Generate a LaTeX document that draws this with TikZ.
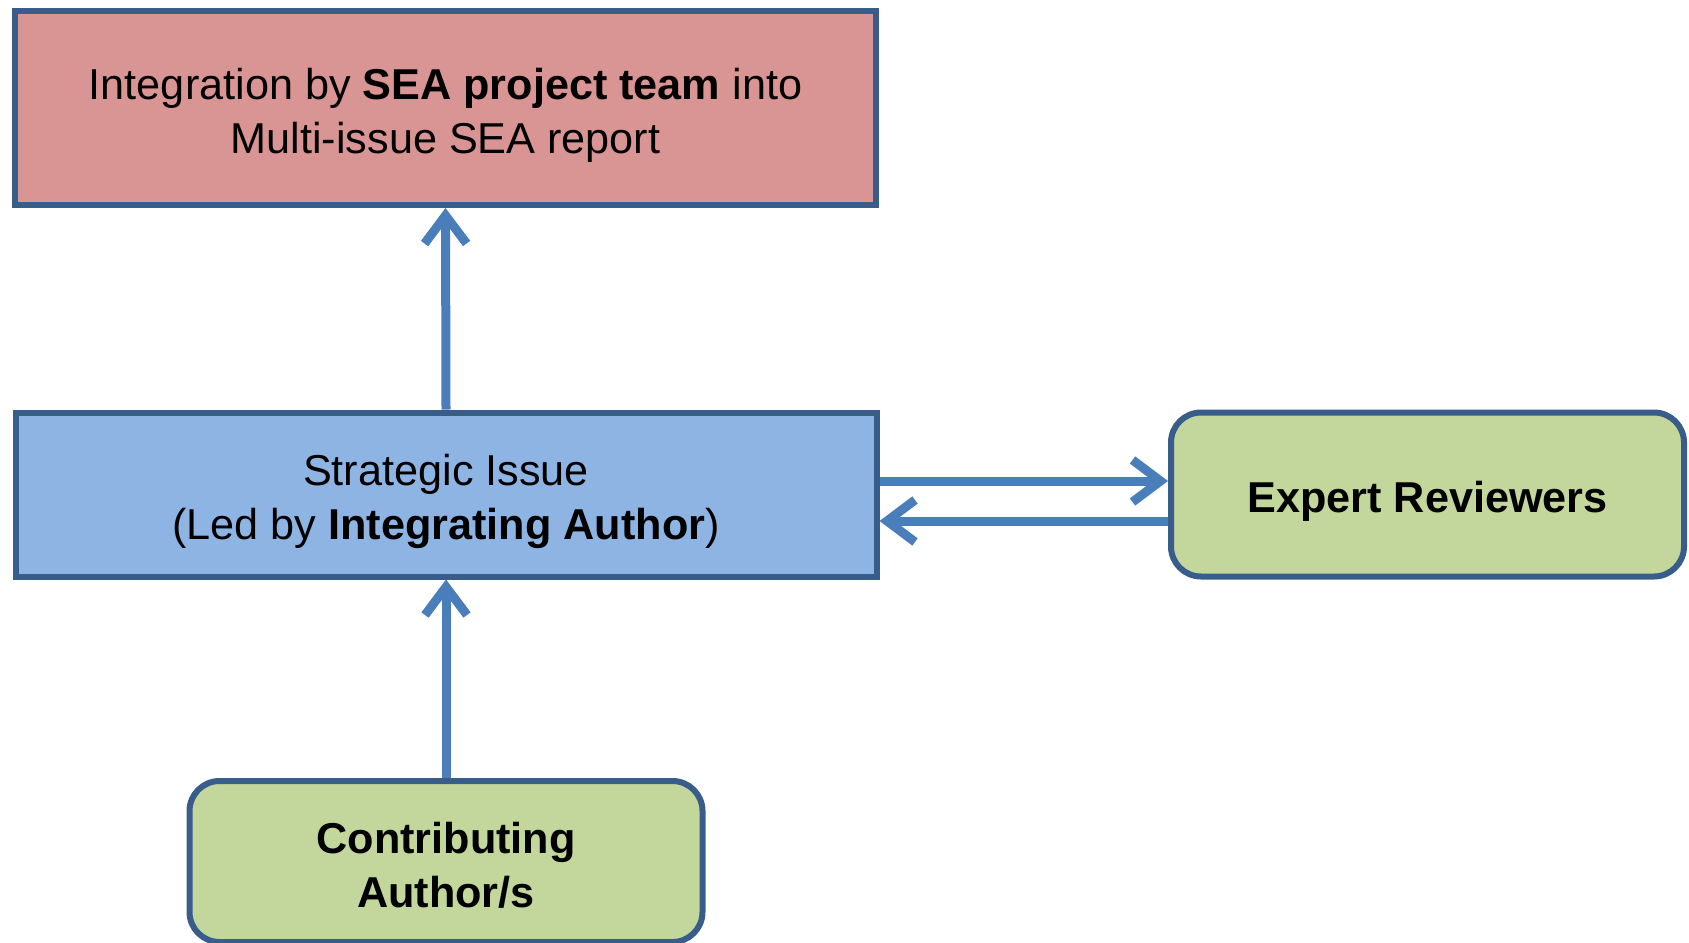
\documentclass[tikz,border=0pt]{standalone}
\usepackage{fontspec}
\setmainfont{Liberation Sans}
\usetikzlibrary{arrows.meta,positioning}

\definecolor{edgeblue}{HTML}{385D8A}
\definecolor{flowblue}{HTML}{4A7EBB}
\definecolor{teamred}{HTML}{D99594}
\definecolor{issueblue}{HTML}{8EB4E3}
\definecolor{peergreen}{HTML}{C3D69B}

% pushes the text of a box a little down
\newcommand{\lift}[1][22.6pt]{\rule{0pt}{#1}}

\tikzset{
  box/.style={draw=edgeblue,line width=3pt,align=center,inner sep=0pt,
              font=\fontsize{21.6}{27}\selectfont},
  squarebox/.style={box,minimum width=430.5pt},
  roundbox/.style={box,rounded corners=15pt,fill=peergreen,minimum width=256.5pt},
  flow/.style={draw=flowblue,line width=4.5pt,-{Straight Barb[length=14pt,width=21pt]}}
}

\begin{document}
\begin{tikzpicture}[x=0.5pt,y=-0.5pt]
    \useasboundingbox (0,0) rectangle (1689,942);
    % the boxes
    \node[squarebox,fill=teamred,minimum height=97pt] (team) at (445.5,108)
        {\lift Integration by \textbf{SEA project team} into\\Multi-issue SEA report};
    \node[squarebox,fill=issueblue,minimum height=82pt] (issue) at (446,494.5)
        {\lift Strategic Issue\\(Led by \textbf{Integrating Author})};
    \node[roundbox,minimum height=82pt] (expert) at (1427.5,494.5)
        {\lift\textbf{Expert Reviewers}};
    \node[roundbox,minimum height=80.5pt] (contrib) at (446,861.5)
        {\lift[19.4pt]\textbf{Contributing}\\\textbf{Author/s}};
    % the arrows
    \draw[flow] (issue.north) -- (team.south);
    \draw[flow] (contrib.north) -- (issue.south);
    \draw[flow] ([yshift=6.75pt]issue.east) -- ([yshift=6.75pt]expert.west);
    \draw[flow] ([yshift=-13.25pt]expert.west) -- ([yshift=-13.25pt]issue.east);
\end{tikzpicture}
\end{document}
